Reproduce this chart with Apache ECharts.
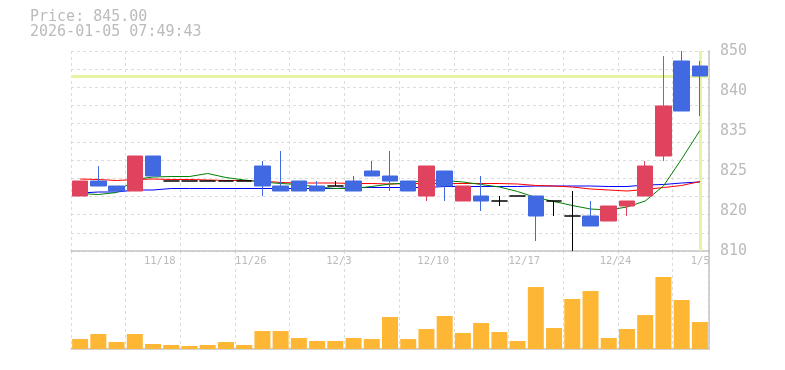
<!DOCTYPE html>
<html><head><meta charset="utf-8">
<script src="https://cdn.jsdelivr.net/npm/echarts@6/dist/echarts.min.js"></script>
<style>html,body{margin:0;padding:0;background:#fff}#c{width:785px;height:370px}</style>
</head><body><div id="c"></div>
<script>
const dates = ['11/12','11/13','11/14','11/17','11/18','11/19','11/20','11/21','11/25','11/26','11/27','11/28','12/1','12/2','12/3','12/4','12/5','12/8','12/9','12/10','12/11','12/12','12/15','12/16','12/17','12/18','12/19','12/22','12/23','12/24','12/25','12/26','12/29','12/30','1/5'];
const tickDates = ['11/18','11/26','12/3','12/10','12/17','12/24','1/5'];
const open  = [821,824,823,822,829,824,824,824,824,824,827,823,824,823,823,824,826,825,824,821,826,820,821,820,821,821,820,817,817,816,819,821,829,848,847];
const close = [824,823,822,829,825,824,824,824,824,824,823,822,822,822,823,822,825,824,822,827,823,823,820,820,821,817,820,817,815,819,820,827,839,838,845];
const low   = [821,823,822,822,825,824,824,824,824,824,821,822,822,822,823,822,825,822,822,820,820,820,818,819,821,812,817,810,815,816,817,821,828,838,837];
const high  = [824,827,823,829,829,824,824,824,824,824,828,830,824,824,824,825,828,830,824,827,826,823,825,821,821,821,820,822,820,819,820,828,849,850,848];
const volume = [10,15,7,15,5,4,3,4,7,4,18,18,11,8,8,11,10,32,10,20,33,16,26,17,8,62,21,50,58,11,20,34,72,49,27];
const maGreen = [821.5,821.3,821.7,824.3,824.8,824.9,824.9,825.5,824.7,824.2,823.8,823.5,823.3,822.8,822.5,822.5,822.9,823.4,823.6,824.2,824.1,823.8,823.3,822.8,821.9,820.7,819.9,819.1,818.4,818.2,818.8,820.0,823.0,828.4,834.1];
const maRed   = [824.4,824.3,824.1,824.3,824.4,824.3,824.3,824.2,824.1,824.1,824.0,823.7,823.6,823.6,823.6,823.5,823.5,823.4,823.5,823.5,823.5,823.5,823.5,823.5,823.4,823.1,823.0,822.8,822.4,822.2,822.0,822.3,822.7,823.1,823.9];
const maBlue  = [821.6,821.8,821.8,822.2,822.2,822.5,822.5,822.5,822.5,822.5,822.5,822.5,822.5,822.5,822.5,822.7,822.7,822.7,822.7,822.7,822.9,822.9,822.9,822.9,822.9,823.0,823.0,823.0,823.0,822.9,822.9,823.2,823.3,823.6,823.8];
const priceTickLabels = ['810','820','825','835','840','850'];
const currentPrice = 845;
const timestamp = '2026-01-05 07:49:43';

const chart = echarts.init(document.getElementById('c'), null, {renderer:'canvas'});
const upColor = '#e0435e', downColor = '#4169e1', dojiColor = '#000000';
const candleData = dates.map((d, i) => {
  const item = {value: [open[i], close[i], low[i], high[i]]};
  if (open[i] === close[i]) item.itemStyle = {color: dojiColor, color0: dojiColor, borderColor: dojiColor, borderColor0: dojiColor, borderColorDoji: dojiColor};
  return item;
});
const gridLine = {show: true, lineStyle: {color: '#dcdcdc', type: [3, 3], width: 1}};
const axisLineStyle = {show: true, onZero: false, lineStyle: {color: '#c4c4c4', width: 1.5}};
const noLine = {show: false, onZero: false};
const txtColor = '#bbbbbb';
const mono = 'DejaVu Sans Mono';

chart.setOption({
  animation: false,
  backgroundColor: '#ffffff',
  title: {
    text: 'Price: ' + currentPrice.toFixed(2) + '\n' + timestamp,
    left: 30, top: 10, padding: 0,
    textStyle: {fontFamily: mono, fontSize: 15, fontWeight: 'normal', color: txtColor, lineHeight: 15}
  },
  grid: [
    {left: 71, right: 76, top: 51, height: 200},
    {left: 71, right: 76, top: 251, height: 98}
  ],
  xAxis: [
    {type: 'category', gridIndex: 0, data: dates, boundaryGap: true, axisLine: axisLineStyle, axisTick: {show: false}, axisLabel: {show: false}, splitLine: gridLine},
    {type: 'category', gridIndex: 1, data: dates, boundaryGap: true, axisLine: axisLineStyle, axisTick: {show: false}, axisLabel: {show: false}, splitLine: gridLine},
    {type: 'value', gridIndex: 0, min: 0, max: dates.length, interval: 1, position: 'bottom',
     axisLine: noLine, axisTick: {show: false}, splitLine: {show: false},
     axisLabel: {show: true, margin: 5, align: 'left', fontFamily: mono, fontSize: 10.5, color: txtColor,
       formatter: v => (tickDates.indexOf(dates[v]) >= 0 ? dates[v] : '')}}
  ],
  yAxis: [
    {type: 'value', gridIndex: 0, min: 810, max: 850, position: 'right', axisLine: axisLineStyle, axisTick: {show: false}, axisLabel: {show: false}, splitLine: {show: false}},
    {type: 'value', gridIndex: 0, min: 0, max: priceTickLabels.length - 1, interval: 1, position: 'right',
     axisLine: noLine, axisTick: {show: false}, splitLine: {show: false},
     axisLabel: {show: true, margin: 11, fontFamily: mono, fontSize: 15, color: txtColor, padding: [5, 0, 0, 0],
       formatter: v => priceTickLabels[v]}},
    {type: 'value', gridIndex: 0, min: 0, max: 11, interval: 1, position: 'left',
     axisLine: noLine, axisTick: {show: false}, axisLabel: {show: false}, splitLine: gridLine},
    {type: 'value', gridIndex: 1, min: 0, max: 98, position: 'right', axisLine: axisLineStyle, axisTick: {show: false}, axisLabel: {show: false}, splitLine: {show: false}}
  ],
  series: [
    {type: 'line', xAxisIndex: 0, yAxisIndex: 0, data: [], z: 1,
     markLine: {silent: true, symbol: 'none', label: {show: false}, animation: false, z: 1,
       lineStyle: {color: '#e4f4a0', width: 3, type: 'solid'},
       data: [{yAxis: currentPrice}, {xAxis: dates[dates.length - 1]}]}},
    {type: 'line', xAxisIndex: 0, yAxisIndex: 0, data: maBlue, showSymbol: false, z: 2, lineStyle: {color: '#0000ff', width: 1}},
    {type: 'line', xAxisIndex: 0, yAxisIndex: 0, data: maRed, showSymbol: false, z: 2, lineStyle: {color: '#ff0000', width: 1}},
    {type: 'line', xAxisIndex: 0, yAxisIndex: 0, data: maGreen, showSymbol: false, z: 2, lineStyle: {color: '#008000', width: 1}},
    {type: 'candlestick', xAxisIndex: 0, yAxisIndex: 0, data: candleData, barWidth: 16, z: 3,
     itemStyle: {color: upColor, color0: downColor, borderColor: upColor, borderColor0: downColor, borderColorDoji: dojiColor, borderWidth: 1}},
    {type: 'bar', xAxisIndex: 1, yAxisIndex: 3, data: volume, barWidth: 16, itemStyle: {color: '#fdb735'}}
  ]
});
</script></body></html>
